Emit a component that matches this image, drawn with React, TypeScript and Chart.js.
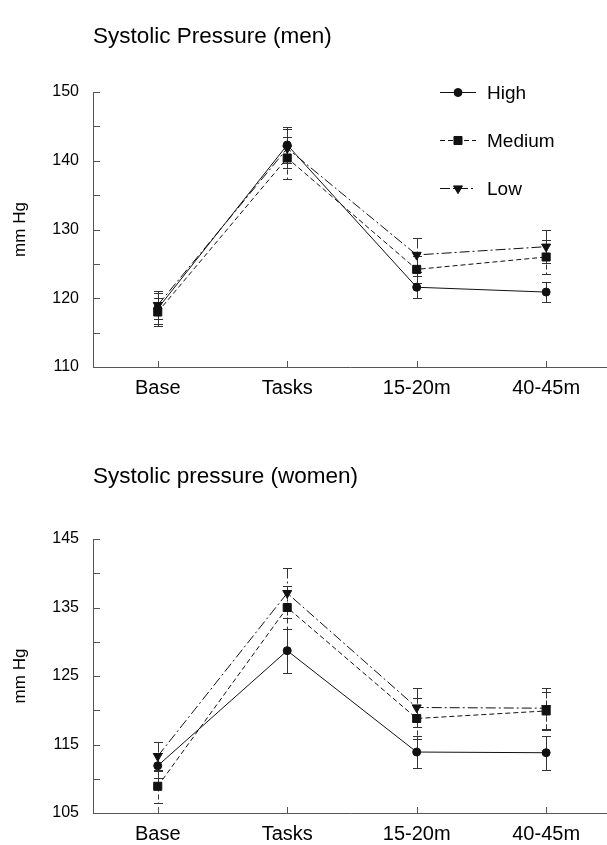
import React, { useEffect, useRef } from 'react';
import { Chart, registerables } from 'chart.js';

Chart.register(...registerables);

// ---------- data ----------
const categories = ['Base', 'Tasks', '15-20m', '40-45m'];
const seriesNames = ['High', 'Medium', 'Low'];

const menHigh = [118.5, 142.3, 121.6, 120.9];
const menHighErr = [2.3, 2.6, 1.6, 1.4];
const menMedium = [118.0, 140.4, 124.2, 126.0];
const menMediumErr = [2.0, 3.1, 2.0, 2.4];
const menLow = [119.0, 141.8, 126.3, 127.5];
const menLowErr = [2.0, 2.8, 2.5, 2.4];

const womenHigh = [111.9, 128.7, 113.9, 113.8];
const womenHighErr = [1.8, 3.2, 2.4, 2.5];
const womenMedium = [108.9, 135.0, 118.8, 119.9];
const womenMediumErr = [2.4, 3.1, 3.0, 2.8];
const womenLow = [113.3, 137.1, 120.4, 120.3];
const womenLowErr = [2.1, 3.6, 2.8, 3.0];

const menYMin = 110;
const menYMax = 150;
const womenYMin = 105;
const womenYMax = 145;
const yMinorStep = 5;
const yLabelStep = 10;

const menTitle = 'Systolic Pressure (men)';
const womenTitle = 'Systolic pressure (women)';
const yAxisTitle = 'mm Hg';

// ---------- styling ----------
const FONT = '"Liberation Sans", Arial, Helvetica, sans-serif';
const INK = '#111';
const AXIS = '#555';

const seriesStyles = [
  { dash: [] as number[], pointStyle: 'circle', radius: 4, rotation: 0 },
  { dash: [5, 3], pointStyle: 'rect', radius: 5.7, rotation: 0 },
  { dash: [10, 3, 2, 3], pointStyle: 'triangle', radius: 5.2, rotation: 180 },
];

function drawMarker(ctx: CanvasRenderingContext2D, style: string, rotation: number, x: number, y: number, r: number) {
  ctx.beginPath();
  if (style === 'circle') {
    ctx.arc(x, y, r, 0, Math.PI * 2);
  } else if (style === 'rect') {
    const s = r * Math.SQRT1_2;
    ctx.rect(x - s, y - s, 2 * s, 2 * s);
  } else {
    const sgn = rotation === 180 ? -1 : 1;
    const h = Math.sin(Math.PI / 3) * r;
    ctx.moveTo(x, y - sgn * r);
    ctx.lineTo(x - h, y + sgn * r / 2);
    ctx.lineTo(x + h, y + sgn * r / 2);
    ctx.closePath();
  }
  ctx.fill();
  ctx.stroke();
}

const decorPlugin = {
  id: 'decor',
  beforeDatasetsDraw(chart: any) {
    const { ctx, chartArea, scales } = chart;
    const xs = scales.x;
    const ys = scales.y;
    ctx.save();
    ctx.strokeStyle = AXIS;
    ctx.lineWidth = 1;
    ctx.setLineDash([]);
    ctx.beginPath();
    ys.ticks.forEach((t: any) => {
      const py = Math.round(ys.getPixelForValue(t.value)) + 0.5;
      ctx.moveTo(chartArea.left, py);
      ctx.lineTo(chartArea.left + 7, py);
    });
    xs.ticks.forEach((t: any) => {
      const px = Math.round(xs.getPixelForValue(t.value)) + 0.5;
      ctx.moveTo(px, chartArea.bottom);
      ctx.lineTo(px, chartArea.bottom - 6);
    });
    ctx.stroke();

    // error bars
    ctx.strokeStyle = '#333';
    chart.data.datasets.forEach((ds: any) => {
      ds.data.forEach((p: any, i: number) => {
        const err = ds.errors[i];
        const px = Math.round(xs.getPixelForValue(p.x)) + 0.5;
        const yTop = Math.round(ys.getPixelForValue(p.y + err)) + 0.5;
        const yBot = Math.round(ys.getPixelForValue(p.y - err)) + 0.5;
        ctx.setLineDash(ds.borderDash || []);
        ctx.beginPath();
        ctx.moveTo(px, yTop);
        ctx.lineTo(px, yBot);
        ctx.stroke();
        ctx.setLineDash([]);
        ctx.beginPath();
        ctx.moveTo(px - 4.5, yTop);
        ctx.lineTo(px + 4.5, yTop);
        ctx.moveTo(px - 4.5, yBot);
        ctx.lineTo(px + 4.5, yBot);
        ctx.stroke();
      });
    });
    ctx.restore();
  },
  afterDraw(chart: any, _args: any, opts: any) {
    const { ctx, chartArea } = chart;
    ctx.save();
    // title
    ctx.fillStyle = '#000';
    ctx.font = `22.5px ${FONT}`;
    ctx.textAlign = 'left';
    ctx.textBaseline = 'alphabetic';
    ctx.fillText(opts.title, chartArea.left, opts.titleBaseline);

    // legend
    if (opts.legend) {
      const x0 = chartArea.right - 167;
      chart.data.datasets.forEach((ds: any, i: number) => {
        const y = chartArea.top + i * 48 + 0.5;
        ctx.strokeStyle = INK;
        ctx.lineWidth = 1;
        ctx.setLineDash(ds.borderDash || []);
        ctx.beginPath();
        ctx.moveTo(x0, y);
        ctx.lineTo(x0 + 36, y);
        ctx.stroke();
        ctx.setLineDash([]);
        ctx.fillStyle = INK;
        drawMarker(ctx, ds.pointStyle, ds.pointRotation || 0, x0 + 18, y, ds.pointRadius);
        ctx.fillStyle = '#000';
        ctx.font = `19px ${FONT}`;
        ctx.textBaseline = 'middle';
        ctx.fillText(ds.label, x0 + 47, y + 1);
      });
    }
    ctx.restore();
  },
};

type Spec = {
  title: string;
  titleBaseline: number;
  legend: boolean;
  series: number[][];
  errors: number[][];
  yMin: number;
  yMax: number;
  topPad: number;
  xHeight: number;
  height: number;
};

function SystolicChart({ spec }: { spec: Spec }) {
  const ref = useRef<HTMLCanvasElement>(null);
  useEffect(() => {
    const datasets = spec.series.map((vals, si) => {
      const st = seriesStyles[si];
      return {
        label: seriesNames[si],
        data: categories.map((_, i) => ({ x: i, y: vals[i] })),
        errors: spec.errors[si],
        borderColor: INK,
        backgroundColor: INK,
        borderWidth: 1,
        borderDash: st.dash,
        pointStyle: st.pointStyle,
        pointRotation: st.rotation,
        pointRadius: st.radius,
        pointBorderWidth: 1,
        pointBackgroundColor: INK,
        pointBorderColor: INK,
        tension: 0,
        fill: false,
      };
    });
    const chart = new Chart(ref.current!, {
      type: 'line',
      data: { datasets } as any,
      plugins: [decorPlugin as any],
      options: {
        responsive: false,
        animation: false,
        events: [],
        layout: { autoPadding: false, padding: { top: spec.topPad, left: 0, right: 0, bottom: 0 } },
        plugins: {
          legend: { display: false },
          tooltip: { enabled: false },
          title: { display: false },
          decor: { title: spec.title, titleBaseline: spec.titleBaseline, legend: spec.legend },
        } as any,
        scales: {
          x: {
            type: 'linear',
            min: -0.5,
            max: 3.47,
            grid: { display: false, drawTicks: false },
            border: { display: true, color: AXIS, width: 1 },
            afterBuildTicks: (s: any) => {
              s.ticks = categories.map((_, i) => ({ value: i }));
            },
            afterFit: (s: any) => {
              s.height = spec.xHeight;
              s.paddingLeft = 0;
              s.paddingRight = 0;
            },
            ticks: {
              autoSkip: false,
              maxRotation: 0,
              padding: 9,
              color: '#000',
              font: { family: FONT, size: 20 },
              callback: (v: any) => categories[v] ?? '',
            },
          },
          y: {
            type: 'linear',
            min: spec.yMin,
            max: spec.yMax,
            grid: { display: false, drawTicks: false },
            border: { display: true, color: AXIS, width: 1 },
            afterFit: (s: any) => {
              s.width = 93;
            },
            title: {
              display: true,
              text: yAxisTitle,
              color: '#000',
              font: { family: FONT, size: 17 },
              padding: { top: 10, bottom: 0 },
            },
            ticks: {
              stepSize: yMinorStep,
              autoSkip: false,
              padding: 14,
              color: '#000',
              font: { family: FONT, size: 16 },
              callback: (v: any) => ((v - spec.yMin) % yLabelStep === 0 ? String(v) : ''),
            },
          },
        } as any,
      },
    });
    return () => chart.destroy();
  }, []);
  return (
    <canvas
      ref={ref}
      width={607}
      height={spec.height}
      style={{ display: 'block', width: 607, height: spec.height }}
    />
  );
}

const menSpec: Spec = {
  title: menTitle,
  titleBaseline: 43,
  legend: true,
  series: [menHigh, menMedium, menLow],
  errors: [menHighErr, menMediumErr, menLowErr],
  yMin: menYMin,
  yMax: menYMax,
  topPad: 92,
  xHeight: 55,
  height: 422,
};

const womenSpec: Spec = {
  title: womenTitle,
  titleBaseline: 61,
  legend: false,
  series: [womenHigh, womenMedium, womenLow],
  errors: [womenHighErr, womenMediumErr, womenLowErr],
  yMin: womenYMin,
  yMax: womenYMax,
  topPad: 117,
  xHeight: 32,
  height: 423,
};

export default function App() {
  return (
    <div style={{ position: 'absolute', left: 0, top: 0, width: 607, height: 845, background: '#fff', overflow: 'hidden' }}>
      <SystolicChart spec={menSpec} />
      <SystolicChart spec={womenSpec} />
    </div>
  );
}
